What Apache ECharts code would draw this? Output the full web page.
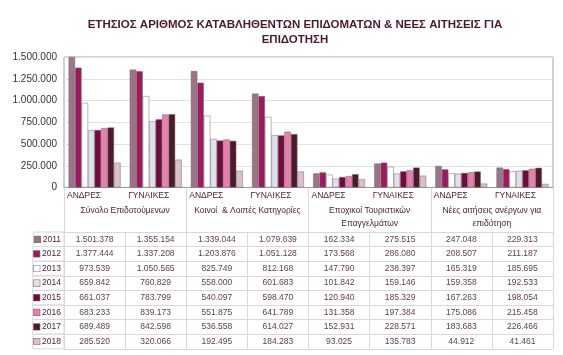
<!DOCTYPE html>
<html><head><meta charset="utf-8">
<script src="https://cdn.jsdelivr.net/npm/echarts@6/dist/echarts.min.js"></script>
<style>html,body{margin:0;padding:0;background:#fff}#c{width:563px;height:355px}</style>
</head><body><div id="c"></div>
<script>
const titleText = 'ΕΤΗΣΙΟΣ ΑΡΙΘΜΟΣ ΚΑΤΑΒΛΗΘΕΝΤΩΝ ΕΠΙΔΟΜΑΤΩΝ & ΝΕΕΣ ΑΙΤΗΣΕΙΣ ΓΙΑ\nΕΠΙΔΟΤΗΣΗ';
const categories = ['ΑΝΔΡΕΣ','ΓΥΝΑΙΚΕΣ','ΑΝΔΡΕΣ','ΓΥΝΑΙΚΕΣ','ΑΝΔΡΕΣ','ΓΥΝΑΙΚΕΣ','ΑΝΔΡΕΣ','ΓΥΝΑΙΚΕΣ'];
const groups = ['Σύνολο Επιδοτούμενων','Κοινοί  & Λοιπές Κατηγορίες','Εποχικοί Τουριστικών\nΕπαγγελμάτων','Νέες αιτήσεις ανέργων για\nεπιδότηση'];
const years = ['2011','2012','2013','2014','2015','2016','2017','2018'];
const v2011 = [1501378,1355154,1339044,1079639,162334,275515,247048,229313];
const v2012 = [1377444,1337208,1203876,1051128,173568,286080,208507,211187];
const v2013 = [973539,1050565,825749,812168,147790,238397,165319,185695];
const v2014 = [659842,760829,558000,601683,101842,159146,159358,192533];
const v2015 = [661037,783799,540097,598470,120940,185329,167263,198054];
const v2016 = [683233,839173,551875,641789,131358,197384,175086,215458];
const v2017 = [689489,842598,536558,614027,152931,228571,183683,226466];
const v2018 = [285520,320066,192495,184283,93025,135783,44912,41461];
const yMin = 0, yMax = 1500000, yStep = 250000;

const seriesValues = [v2011,v2012,v2013,v2014,v2015,v2016,v2017,v2018];
const colors = ['#9b7485','#9c1a5e','#ffffff','#dfe1ea','#6e0c3c','#e87fae','#4d1a2c','#dbbfcc'];
const fmt = n => String(n).replace(/\B(?=(\d{3})+(?!\d))/g, '.');

const FONT = 'Liberation Sans';
const gridBottomY = 187.5;
const tableTop = 232;
const rowH = 14.6;
const lineCol = '#d8d8d8';
const txtCol = '#4a2338';
const valCol = '#5e3f4e';

const xAxes = [];
// 0: main bar axis
xAxes.push({
  type:'category', gridIndex:0, position:'bottom', data:categories,
  axisLine:{onZero:false, lineStyle:{color:'#999', width:1}},
  axisTick:{show:false}, axisLabel:{show:false}, splitLine:{show:false}
});
// 1: category labels (left aligned at category start)
xAxes.push({
  type:'category', gridIndex:0, position:'bottom', boundaryGap:false,
  data: categories.concat(['']),
  axisLine:{show:false, onZero:false}, axisTick:{show:false}, splitLine:{show:false},
  axisLabel:{interval:0, align:'left', margin:4, padding:[0,0,0,3], fontSize:8.5, color:txtCol, fontFamily:FONT, hideOverlap:false}
});
// 2: group labels
xAxes.push({
  type:'category', gridIndex:0, position:'bottom', data:groups,
  axisLine:{show:false, onZero:false},
  axisTick:{show:true, interval:0, length: tableTop - gridBottomY, lineStyle:{color:lineCol}},
  splitLine:{show:false},
  axisLabel:{interval:0, margin:16.5, verticalAlign:'top', lineHeight:13, fontSize:8.5, color:txtCol, fontFamily:FONT, hideOverlap:false}
});
// 3: table top line
xAxes.push({
  type:'category', gridIndex:0, position:'bottom', data:categories, offset: tableTop - gridBottomY,
  axisLine:{show:true, onZero:false, lineStyle:{color:lineCol}},
  axisTick:{show:false}, axisLabel:{show:false}, splitLine:{show:false}
});
// 4..11: table rows
years.forEach((y, i) => {
  xAxes.push({
    type:'category', gridIndex:0, position:'bottom',
    data: seriesValues[i].map(fmt),
    offset: tableTop - gridBottomY + rowH*(i+1),
    axisLine:{show:true, onZero:false, lineStyle:{color:lineCol}},
    axisTick:{show:true, inside:true, interval:0, length:rowH, lineStyle:{color:lineCol}},
    splitLine:{show:false},
    axisLabel:{interval:0, inside:true, margin:rowH/2, verticalAlign:'middle', fontSize:8.5, color:valCol, fontFamily:FONT, hideOverlap:false},
    name: '{sq| }{t| ' + y + '}',
    nameLocation:'start', nameGap:0,
    nameTextStyle:{
      align:'right', verticalAlign:'bottom',
      width:30, height:rowH, lineHeight:rowH, padding:[0,3,0,1],
      borderColor:lineCol, borderWidth:1,
      rich:{
        sq:{width:6, height:6, backgroundColor:colors[i], borderColor:'#8a6a7a', borderWidth:0.6},
        t:{fontSize:8.5, color:txtCol, fontFamily:FONT, lineHeight:rowH}
      }
    }
  });
});

const series = years.map((y, i) => ({
  name: y, type:'bar', xAxisIndex:0, yAxisIndex:0,
  data: seriesValues[i],
  barGap:'0%', barCategoryGap:'15%',
  itemStyle:{color:colors[i], borderColor:'#7a6a72', borderWidth:0.5},
  animation:false
}));

const chart = echarts.init(document.getElementById('c'), null, {renderer:'canvas'});
chart.setOption({
  animation:false,
  textStyle:{fontFamily:FONT},
  title:{text:titleText, left:290, textAlign:'center', top:12,
    textStyle:{fontSize:11.5, fontWeight:'bold', color:'#4b1830', lineHeight:15, fontFamily:FONT}},
  grid:{left:64, right:10, top:57, bottom:355-gridBottomY, show:true, borderColor:'#a0a0a0', borderWidth:1, containLabel:false},
  xAxis: xAxes,
  yAxis:{type:'value', min:yMin, max:yMax, interval:yStep,
    axisLine:{show:false}, axisTick:{show:false},
    splitLine:{lineStyle:{color:'#e2e2e2'}},
    axisLabel:{fontSize:10, color:'#333', margin:7, formatter:v => fmt(v), fontFamily:FONT}},
  series: series
});
</script>
</body></html>
